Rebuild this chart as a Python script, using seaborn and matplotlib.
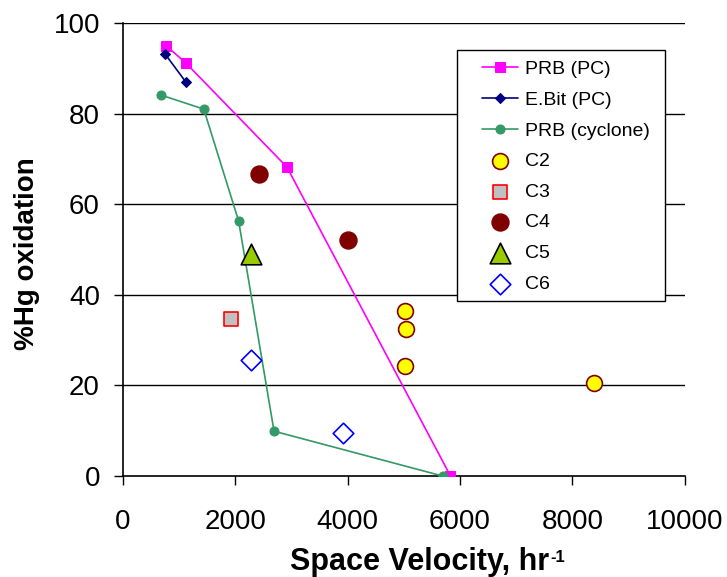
import matplotlib
matplotlib.use("Agg")
import matplotlib.pyplot as plt
from matplotlib.patches import Rectangle
import seaborn as sns

# Series data: space velocity (hr^-1) vs. %Hg oxidation
prb_pc_x = [770, 1120, 2920, 5830]
prb_pc_y = [95.0, 91.2, 68.2, 0.0]

ebit_pc_x = [750, 1120]
ebit_pc_y = [93.2, 87.0]

prb_cyc_x = [680, 1440, 2060, 2690, 5690]
prb_cyc_y = [84.1, 81.0, 56.3, 9.9, 0.0]

c2_x = [5020, 5035, 5020, 8380]
c2_y = [36.4, 32.5, 24.3, 20.5]
c3_x = [1920]
c3_y = [34.7]
c4_x = [2420, 4000]
c4_y = [66.7, 52.1]
c5_x = [2280]
c5_y = [49.0]
c6_x = [2280, 3910]
c6_y = [25.6, 9.5]

x_ticks = [0, 2000, 4000, 6000, 8000, 10000]
y_ticks = [0, 20, 40, 60, 80, 100]

sns.set_theme(style="white")
plt.rcParams["font.family"] = ["Liberation Sans", "DejaVu Sans"]
plt.rcParams["text.color"] = "black"
plt.rcParams["axes.labelcolor"] = "black"
plt.rcParams["xtick.color"] = "black"
plt.rcParams["ytick.color"] = "black"

fig = plt.figure(figsize=(7.27, 5.77), dpi=100)
ax = fig.add_axes([0.169, 0.175, 0.773, 0.785])

# horizontal gridlines
for yv in y_ticks[1:]:
    ax.axhline(yv, color="black", lw=1.0, zorder=0)

sns.lineplot(x=prb_pc_x, y=prb_pc_y, sort=False, ax=ax, color="#FF00FF", lw=1.2,
             marker="s", markersize=7, markeredgecolor="#FF00FF", label="PRB (PC)",
             zorder=3)
sns.lineplot(x=ebit_pc_x, y=ebit_pc_y, sort=False, ax=ax, color="#000080", lw=1.2,
             marker="D", markersize=5, markeredgecolor="#000080", label="E.Bit (PC)",
             zorder=3)
sns.lineplot(x=prb_cyc_x, y=prb_cyc_y, sort=False, ax=ax, color="#339966", lw=1.2,
             marker="o", markersize=6.5, markeredgecolor="#339966", label="PRB (cyclone)",
             zorder=3)

sns.scatterplot(x=c2_x, y=c2_y, ax=ax, marker="o", s=130, color="#FFFF00",
                edgecolor="#800000", linewidth=1.2, label="C2", zorder=4)
sns.scatterplot(x=c3_x, y=c3_y, ax=ax, marker="s", s=110, color="#C0C0C0",
                edgecolor="#FF0000", linewidth=1.2, label="C3", zorder=4)
sns.scatterplot(x=c4_x, y=c4_y, ax=ax, marker="o", s=150, color="#800000",
                edgecolor="#800000", linewidth=1.0, label="C4", zorder=4)
sns.scatterplot(x=c5_x, y=c5_y, ax=ax, marker="^", s=220, color="#99CC00",
                edgecolor="black", linewidth=1.2, label="C5", zorder=4)
sns.scatterplot(x=c6_x, y=c6_y, ax=ax, marker="D", s=110, color="white",
                edgecolor="#0000FF", linewidth=1.2, label="C6", zorder=4)

ax.set_xlim(0, 10000)
ax.set_ylim(0, 100)
ax.set_xticks(x_ticks)
ax.set_yticks(y_ticks)
ax.tick_params(axis="both", direction="out", length=6.5, width=1, color="black",
               labelsize=20, labelcolor="black", bottom=True, left=True)
ax.tick_params(axis="x", pad=17)
ax.tick_params(axis="y", pad=10)

for side in ["top", "right"]:
    ax.spines[side].set_visible(False)
for side in ["left", "bottom"]:
    ax.spines[side].set_color("black")
    ax.spines[side].set_linewidth(1.2)

ax.set_xlabel("Space Velocity, hr", fontsize=22, fontweight="bold", color="black")
ax.xaxis.set_label_coords(0.528, -0.156)
ax.set_ylabel("%Hg oxidation", fontsize=20, fontweight="bold", color="black")
ax.yaxis.set_label_coords(-0.147, 0.49)

# legend frame drawn as a plain box, entries placed inside it
ax.add_patch(Rectangle((0.594, 0.386), 0.370, 0.554, transform=ax.transAxes,
                       facecolor="white", edgecolor="black", lw=1.0, zorder=5))
leg = ax.legend(loc="upper left", bbox_to_anchor=(0.639, 0.917), fontsize=14,
                frameon=False, borderpad=0, labelspacing=0.67, handlelength=1.85,
                handletextpad=0.35, borderaxespad=0, labelcolor="black")
leg.set_zorder(6)

# superscript on the x-axis unit
fig.canvas.draw()
bb = ax.xaxis.label.get_window_extent()
fig.text(bb.x1 / fig.bbox.width + 0.002, (bb.y1 - 3) / fig.bbox.height, "-1",
         fontsize=12, fontweight="bold", ha="left", va="top", color="black")

fig.savefig("out.png", dpi=100)
